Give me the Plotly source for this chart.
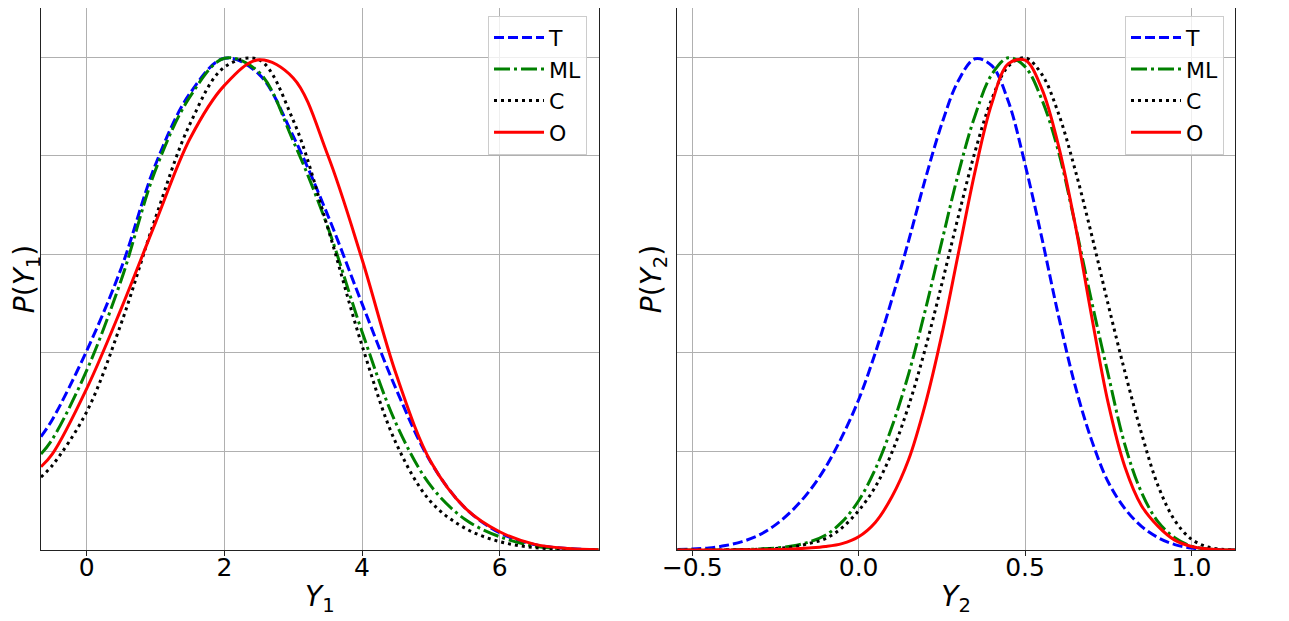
import plotly.graph_objects as go

# left panel: density of Y1 (normalised to peak 1)
y1_grid = [-0.666, -0.5, 0.0, 0.5, 1.0, 1.5, 2.0, 2.5, 3.0, 3.5, 4.0, 4.5, 5.0, 5.5, 6.0, 6.5, 7.0, 7.44]
t_y1 = [0.23, 0.265, 0.405, 0.572, 0.783, 0.927, 0.998, 0.966, 0.84, 0.68, 0.5, 0.325, 0.178, 0.085, 0.035, 0.011, 0.003, 0.0005]
ml_y1 = [0.195, 0.225, 0.365, 0.548, 0.772, 0.92, 0.998, 0.97, 0.83, 0.656, 0.443, 0.255, 0.13, 0.062, 0.027, 0.008, 0.002, 0.0003]
c_y1 = [0.148, 0.172, 0.281, 0.46, 0.675, 0.865, 0.98, 0.995, 0.872, 0.655, 0.415, 0.215, 0.098, 0.044, 0.017, 0.005, 0.001, 0.0002]
o_y1 = [0.169, 0.195, 0.328, 0.49, 0.665, 0.835, 0.943, 0.995, 0.958, 0.802, 0.59, 0.355, 0.179, 0.085, 0.037, 0.012, 0.003, 0.0005]

# right panel: density of Y2
y2_grid = [-0.545, -0.5, -0.45, -0.4, -0.35, -0.3, -0.25, -0.2, -0.15, -0.1, -0.05, 0.0, 0.05, 0.1, 0.15,
           0.2, 0.25, 0.3, 0.35, 0.4, 0.45, 0.5, 0.55, 0.6, 0.65, 0.7, 0.75, 0.8, 0.85, 0.9, 0.95,
           1.0, 1.05, 1.1, 1.131]
t_y2 = [0.001, 0.002, 0.004, 0.009, 0.017, 0.03, 0.051, 0.08, 0.118, 0.167, 0.23, 0.305, 0.4, 0.509, 0.627,
        0.752, 0.865, 0.953, 0.997, 0.983, 0.91, 0.783, 0.635, 0.477, 0.335, 0.223, 0.138, 0.084, 0.048, 0.025, 0.011,
        0.004, 0.001, 0.0, 0.0]
ml_y2 = [0.0, 0.0, 0.0, 0.0005, 0.001, 0.002, 0.004, 0.008, 0.016, 0.03, 0.057, 0.1, 0.164, 0.25, 0.357,
         0.486, 0.626, 0.765, 0.882, 0.965, 0.999, 0.981, 0.915, 0.81, 0.663, 0.505, 0.356, 0.214, 0.117, 0.057, 0.025,
         0.008, 0.002, 0.0, 0.0]
c_y2 = [0.0, 0.0, 0.0, 0.0003, 0.0008, 0.0015, 0.003, 0.006, 0.013, 0.023, 0.045, 0.08, 0.128, 0.198, 0.292,
        0.408, 0.54, 0.678, 0.809, 0.915, 0.982, 0.999, 0.966, 0.887, 0.773, 0.64, 0.498, 0.362, 0.237, 0.13, 0.06,
        0.022, 0.006, 0.001, 0.0]
o_y2 = [0.0, 0.0, 0.0, 0.0, 0.0003, 0.0005, 0.001, 0.002, 0.004, 0.007, 0.013, 0.027, 0.056, 0.108, 0.183,
        0.295, 0.437, 0.603, 0.769, 0.906, 0.987, 0.994, 0.937, 0.822, 0.663, 0.475, 0.298, 0.169, 0.09, 0.048, 0.02,
        0.007, 0.002, 0.0, 0.0]

series_names = ["T", "ML", "C", "O"]
series_colors = ["#0000ff", "#008000", "#000000", "#ff0000"]
series_dash = ["10px,4px", "16px,4px,3px,4px", "3px,4px", "solid"]

FONT = "DejaVu Sans"

fig = go.Figure()

panels = [
    (y1_grid, [t_y1, ml_y1, c_y1, o_y1], "x", "y", "legend"),
    (y2_grid, [t_y2, ml_y2, c_y2, o_y2], "x2", "y2", "legend2"),
]
for grid, curves, xa, ya, leg in panels:
    for name, vals, col, dash in zip(series_names, curves, series_colors, series_dash):
        fig.add_trace(go.Scatter(
            x=grid, y=vals, name=name, mode="lines",
            line=dict(color=col, width=3, dash=dash, shape="spline", smoothing=1.0),
            xaxis=xa, yaxis=ya, legend=leg,
        ))

axis_common = dict(
    showgrid=True, gridcolor="#b0b0b0", gridwidth=1,
    showline=True, linecolor="#222222", linewidth=1, mirror=True,
    zeroline=False, automargin=False,
    tickfont=dict(family=FONT, size=25, color="black"),
)
title_font = dict(family=FONT, size=28, color="black")

# the page body adds an 8px offset, margins below allow for it
fig.update_layout(
    template="none",
    width=1289, height=621,
    paper_bgcolor="white", plot_bgcolor="white",
    margin=dict(l=33, r=62, t=0, b=79),
    font=dict(family=FONT, color="black"),
    xaxis=dict(
        domain=[0, 0.4671], range=[-0.666, 7.44], tickvals=[0, 2, 4, 6],
        ticks="outside", ticklen=5, tickcolor="#222222", ticklabelstandoff=-10,
        title=dict(text="<i>Y</i><sub>1</sub>", font=title_font, standoff=5),
        **axis_common,
    ),
    yaxis=dict(
        range=[0, 1.1], tickvals=[0, 0.2, 0.4, 0.6, 0.8, 1.0], showticklabels=False, ticks="",
        title=dict(text="<i>P</i>(<i>Y</i><sub>1</sub>)", font=title_font, standoff=6),
        anchor="x",
        **axis_common,
    ),
    xaxis2=dict(
        domain=[0.5329, 1.0], range=[-0.545, 1.131], tickvals=[-0.5, 0.0, 0.5, 1.0],
        ticktext=["\u22120.5", "0.0", "0.5", "1.0"],
        ticks="outside", ticklen=5, tickcolor="#222222", ticklabelstandoff=-10, anchor="y2",
        title=dict(text="<i>Y</i><sub>2</sub>", font=title_font, standoff=5),
        **axis_common,
    ),
    yaxis2=dict(
        range=[0, 1.1], tickvals=[0, 0.2, 0.4, 0.6, 0.8, 1.0], showticklabels=False, ticks="",
        title=dict(text="<i>P</i>(<i>Y</i><sub>2</sub>)", font=title_font, standoff=6),
        anchor="x2",
        **axis_common,
    ),
    legend=dict(
        x=0.4573, y=0.986, xanchor="right", yanchor="top",
        bgcolor="rgba(255,255,255,0.8)", bordercolor="#cccccc", borderwidth=1,
        font=dict(family=FONT, size=22), traceorder="normal", itemwidth=50,
    ),
    legend2=dict(
        x=0.9908, y=0.986, xanchor="right", yanchor="top",
        bgcolor="rgba(255,255,255,0.8)", bordercolor="#cccccc", borderwidth=1,
        font=dict(family=FONT, size=22), traceorder="normal", itemwidth=50,
    ),
    showlegend=True,
)

fig.write_html("out.html")
